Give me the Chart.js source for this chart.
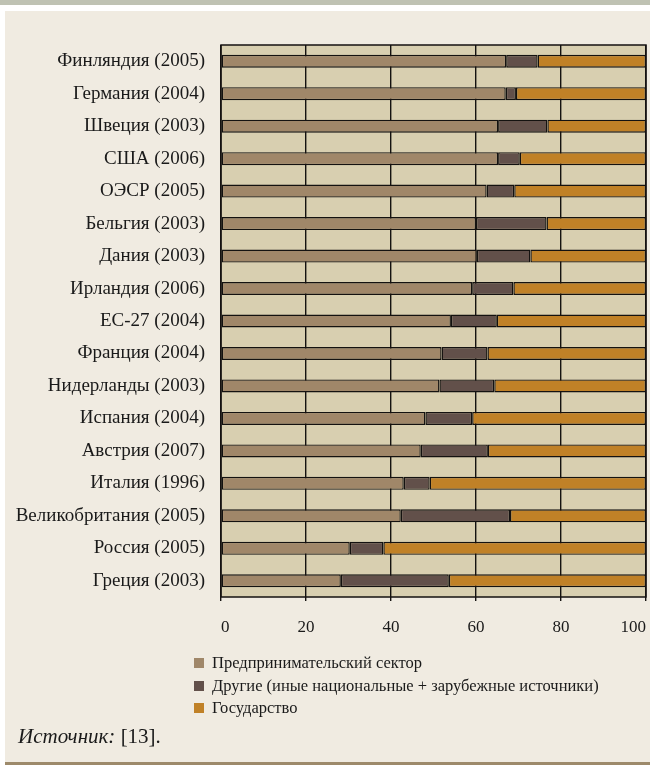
<!DOCTYPE html>
<html><head><meta charset="utf-8">
<script src="https://cdn.jsdelivr.net/npm/chart.js@4/dist/chart.umd.min.js"></script>
<style>
html,body{margin:0;padding:0;background:#fff;}
#wrap{position:relative;width:650px;height:765px;overflow:hidden;background:#fff;}
#panel{position:absolute;left:5px;top:11px;width:645px;height:751px;background:#f0ebe1;}
#topband{position:absolute;left:0;top:0;width:650px;height:5px;background:#bfc2b3;}
#botband{position:absolute;left:5px;top:762px;width:645px;height:3px;background:#9d8a6b;}
#c{position:absolute;left:0;top:0;}
.leg{position:absolute;left:194px;font-family:"Liberation Serif",serif;font-size:16.5px;color:#1a1a1a;white-space:nowrap;}
.leg .sw{position:absolute;left:0;top:50%;width:10px;height:10px;margin-top:-5px;}
.leg .tx{position:absolute;left:18px;top:0;line-height:18px;}
#src{position:absolute;left:18px;top:724px;font-family:"Liberation Serif",serif;font-size:21px;color:#1a1a1a;white-space:nowrap;}
</style></head>
<body><div id="wrap">
<div id="panel"></div><div id="topband"></div><div id="botband"></div>
<canvas id="c" width="650" height="765"></canvas>
<div id="legend"></div>
<div id="src"><i>Источник:</i> [13].</div>
</div>
<script>
const categories = ["Финляндия (2005)","Германия (2004)","Швеция (2003)","США (2006)","ОЭСР (2005)","Бельгия (2003)","Дания (2003)","Ирландия (2006)","ЕС-27 (2004)","Франция (2004)","Нидерланды (2003)","Испания (2004)","Австрия (2007)","Италия (1996)","Великобритания (2005)","Россия (2005)","Греция (2003)"];
const business = [67.1,67.0,65.2,65.2,62.5,60.0,60.2,59.1,54.1,51.9,51.4,48.1,47.0,43.0,42.3,30.3,28.2];
const others = [7.4,2.4,11.6,5.1,6.5,16.6,12.6,9.7,10.8,10.8,12.9,11.0,15.8,6.1,25.7,7.9,25.4];
const government = [25.5,30.6,23.2,29.7,31.0,23.4,27.2,31.2,35.1,37.3,35.7,40.9,37.2,50.9,32.0,61.8,46.4];
const seriesNames = ["Предпринимательский сектор","Другие (иные национальные + зарубежные источники)","Государство"];
const seriesColors = ["#a08769","#62504a","#c08127"];
const xTicks = [0,20,40,60,80,100];

const lineCol = "#141210";
const plotBg = {
  id:"plotBg",
  beforeDraw(chart){
    const a=chart.chartArea, ctx=chart.ctx;
    ctx.save(); ctx.fillStyle="#d8cfb0"; ctx.fillRect(a.left,a.top,a.right-a.left,a.bottom-a.top); ctx.restore();
  },
  afterDraw(chart){
    const a=chart.chartArea, ctx=chart.ctx;
    ctx.save(); ctx.strokeStyle=lineCol; ctx.lineWidth=1.5;
    ctx.strokeRect(a.left,a.top,a.right-a.left,a.bottom-a.top); ctx.restore();
  }
};

const seriesData=[business,others,government];
new Chart(document.getElementById("c"),{
  type:"bar",
  data:{labels:categories,datasets:seriesData.map((d,i)=>({label:seriesNames[i],data:d,backgroundColor:seriesColors[i],borderColor:lineCol,borderWidth:1.4,borderSkipped:false,barPercentage:0.4,categoryPercentage:1.0}))},
  options:{
    indexAxis:"y",responsive:false,animation:false,
    layout:{padding:{left:0,right:4,top:45,bottom:128}},
    plugins:{legend:{display:false},tooltip:{enabled:false}},
    scales:{
      x:{stacked:true,min:0,max:100,
        afterBuildTicks(s){s.ticks=xTicks.map(v=>({value:v}));},
        afterFit(s){s.height=40;s.paddingLeft=0;s.paddingRight=0;},
        ticks:{font:{family:"Liberation Serif",size:17},color:"#1a1a1a",align:"inner",padding:16},
        grid:{color:lineCol,lineWidth:1.4,tickLength:4,tickColor:lineCol},
        border:{display:false}},
      y:{stacked:true,
        afterFit(s){s.width=221;s.paddingTop=0;s.paddingBottom=0;},
        ticks:{font:{family:"Liberation Serif",size:19},color:"#1a1a1a",padding:16},
        grid:{display:false,drawTicks:false},
        border:{display:false}}
    }
  },
  plugins:[plotBg]
});

const leg=document.getElementById("legend");
const rowsY=[663,686,708];
seriesNames.forEach((n,i)=>{
  const d=document.createElement("div"); d.className="leg"; d.style.top=(rowsY[i]-9)+"px"; d.style.height="18px";
  d.innerHTML='<span class="sw" style="background:'+seriesColors[i]+'"></span><span class="tx">'+n+'</span>';
  leg.appendChild(d);
});
</script>
</body></html>
